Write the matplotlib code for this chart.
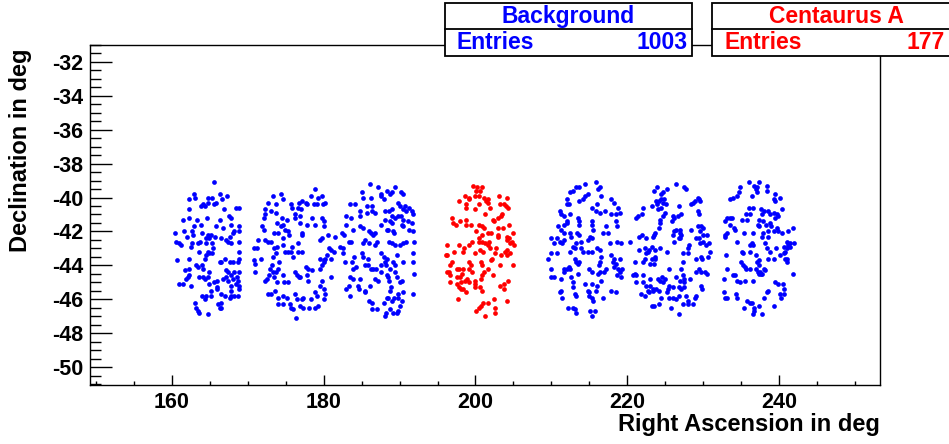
import numpy as np
import matplotlib.pyplot as plt
from matplotlib.patches import Rectangle
from matplotlib.lines import Line2D
from matplotlib.ticker import MultipleLocator

plt.rcParams['font.family'] = ['Liberation Sans', 'DejaVu Sans']
plt.rcParams['font.weight'] = 'bold'
plt.rcParams['axes.unicode_minus'] = False

# (RA, Dec) in deg
field1 = [(165.5,-39.1),(162.9,-39.8),(162.3,-40.1),(163.0,-40.0),(164.7,-40.0),(165.3,-40.0),(166.3,-39.8),
          (167.2,-39.9),(166.6,-40.1),(164.1,-40.4),(163.8,-40.5),(164.3,-40.5),(164.8,-40.3),(165.6,-40.4),
          (165.8,-40.3),(162.3,-40.7),(166.8,-40.7),(168.4,-40.6),(168.9,-40.6),(161.4,-41.3),(162.3,-41.2),
          (163.3,-41.3),(164.6,-41.2),(166.3,-41.3),(167.5,-41.1),(167.8,-41.2),(162.9,-41.7),(163.8,-41.6),
          (167.8,-41.6),(165.8,-41.7),(166.7,-41.8),(168.9,-41.7),(160.4,-42.1),(161.6,-42.0),(162.6,-42.0),
          (162.8,-42.2),(163.9,-42.1),(164.7,-42.2),(165.1,-42.2),(162.0,-42.3),(164.5,-42.4),(164.9,-42.4),
          (165.7,-42.3),(166.5,-42.4),(167.6,-42.3),(168.2,-42.0),(168.0,-42.1),(168.8,-42.0),(160.6,-42.6),
          (160.9,-42.7),(161.2,-42.8),(162.6,-42.7),(162.5,-42.9),(163.4,-42.7),(163.7,-42.6),(164.5,-42.7),
          (165.3,-42.7),(167.1,-42.5),(167.4,-42.6),(167.8,-42.7),(168.8,-42.6),(163.6,-43.2),(164.7,-43.2),
          (164.5,-43.4),(165.4,-43.0),(164.9,-43.3),(165.3,-43.3),(168.8,-43.2),(160.7,-43.7),(162.3,-43.6),
          (164.4,-43.6),(166.3,-43.8),(167.0,-43.6),(166.5,-43.8),(167.6,-43.8),(168.0,-43.8),(168.8,-43.6),
          (168.7,-43.8),(161.7,-44.3),(163.2,-44.0),(163.5,-44.1),(163.9,-44.0),(164.1,-44.2),(162.2,-44.2),
          (164.9,-44.4),(167.1,-44.3),(167.4,-44.4),(168.2,-44.4),(168.9,-44.4),(167.8,-44.6),(160.9,-45.1),
          (161.9,-44.8),(162.1,-44.7),(162.3,-44.6),(163.6,-44.7),(164.1,-44.7),(164.3,-44.8),(164.7,-44.7),
          (166.0,-44.9),(166.7,-44.8),(167.1,-44.7),(167.4,-44.9),(168.0,-44.8),(168.6,-44.7),(168.7,-44.9),
          (165.6,-45.0),(161.4,-45.1),(162.5,-45.2),(164.9,-45.1),(166.0,-45.3),(167.8,-45.2),(168.5,-45.1),
          (168.8,-45.2),(165.1,-45.5),(166.0,-45.4),(167.8,-45.5),(168.9,-45.4),(166.5,-45.7),(167.0,-45.8),
          (164.0,-45.8),(164.3,-46.0),(164.5,-45.8),(165.2,-45.8),(167.6,-45.9),(167.8,-45.8),(168.2,-45.8),
          (168.7,-45.8),(163.0,-46.2),(166.1,-46.3),(166.4,-46.2),(166.3,-46.5),(166.5,-46.5),(163.2,-46.5),
          (163.5,-46.7),(163.6,-46.8),(164.8,-46.9)]

field2 = [(178.9,-39.5),(178.3,-39.9),(179.2,-40.0),(179.8,-39.9),(173.3,-39.9),(174.4,-39.8),(174.7,-40.1),
          (172.6,-40.3),(173.7,-40.4),(175.7,-40.4),(176.7,-40.3),(177.1,-40.2),(177.6,-40.3),(177.8,-40.4),
          (179.1,-40.4),(179.9,-40.4),(180.2,-40.3),(178.7,-40.4),(172.2,-40.7),(173.1,-40.8),(175.8,-40.6),
          (176.6,-40.6),(177.0,-40.7),(176.2,-41.0),(176.9,-41.1),(176.2,-41.2),(178.4,-41.2),(179.8,-41.2),
          (180.0,-41.4),(173.7,-40.9),(172.3,-41.0),(172.1,-41.2),(174.5,-41.2),(175.1,-41.3),(173.8,-41.5),
          (174.7,-41.6),(174.4,-41.7),(176.9,-41.5),(177.8,-41.6),(178.9,-41.6),(180.0,-41.7),(171.9,-41.7),
          (172.1,-41.9),(174.9,-41.9),(175.3,-42.0),(177.1,-42.1),(177.1,-42.2),(173.5,-42.1),(174.0,-42.1),
          (171.3,-42.5),(172.3,-42.5),(172.6,-42.6),(173.1,-42.6),(174.6,-42.4),(175.4,-42.2),(179.8,-42.4),
          (179.5,-42.5),(180.5,-42.2),(170.8,-43.0),(171.2,-43.0),(173.4,-43.0),(173.8,-42.9),(174.7,-42.8),
          (176.6,-42.7),(175.8,-42.9),(180.7,-43.0),(181.0,-43.1),(173.7,-43.3),(174.9,-43.2),(175.3,-43.2),
          (175.7,-43.2),(176.6,-43.2),(177.1,-43.2),(180.4,-43.4),(173.3,-43.5),(171.8,-43.6),(176.0,-43.5),
          (179.5,-43.6),(180.2,-43.6),(180.0,-43.7),(180.9,-43.6),(170.8,-43.7),(171.0,-43.9),(170.9,-44.4),
          (173.2,-44.0),(172.9,-44.2),(174.1,-43.8),(177.6,-44.1),(177.9,-44.2),(179.8,-44.0),(179.5,-44.2),
          (180.1,-43.8),(173.3,-44.4),(173.7,-44.4),(174.0,-44.2),(172.8,-44.6),(172.5,-44.8),(172.3,-44.9),
          (173.5,-44.7),(174.6,-44.6),(176.2,-44.4),(176.5,-44.6),(176.7,-44.7),(176.9,-44.7),(178.5,-44.3),
          (177.8,-44.6),(177.9,-44.9),(179.8,-44.9),(180.9,-44.7),(173.8,-45.0),(174.8,-45.0),(175.3,-45.0),
          (173.6,-45.5),(179.5,-45.2),(180.0,-45.4),(172.7,-45.7),(173.1,-45.7),(174.0,-45.9),(174.7,-45.8),
          (175.1,-45.9),(176.2,-45.7),(177.3,-45.9),(177.1,-46.0),(176.5,-46.0),(178.8,-45.6),(179.1,-45.8),
          (180.2,-45.7),(180.0,-46.0),(178.3,-46.0),(174.0,-46.3),(174.6,-46.3),(175.5,-46.3),(175.7,-46.5),
          (176.0,-46.6),(176.9,-46.4),(177.3,-46.5),(178.1,-46.5),(178.8,-46.5),(179.2,-46.4),(176.3,-47.1)]

field3 = [(186.1,-39.2),(187.2,-39.4),(189.4,-39.4),(188.3,-39.6),(189.0,-39.7),(190.2,-39.7),(187.6,-39.8),
          (187.6,-39.9),(185.1,-39.7),(185.2,-40.0),(186.2,-40.0),(183.5,-40.4),(184.1,-40.4),(185.7,-40.5),
          (186.3,-40.5),(188.0,-40.1),(188.7,-39.8),(190.4,-39.8),(189.8,-40.3),(190.1,-40.5),(190.7,-40.5),
          (184.8,-40.8),(185.7,-40.9),(186.3,-40.8),(186.8,-40.9),(188.1,-40.8),(188.6,-40.8),(189.0,-40.7),
          (190.5,-40.7),(190.9,-40.8),(191.6,-40.8),(191.8,-41.0),(191.2,-40.6),(183.0,-41.1),(183.6,-41.2),
          (184.8,-41.1),(189.0,-41.1),(189.4,-41.2),(189.8,-41.1),(190.2,-41.1),(190.5,-41.3),(191.1,-41.4),
          (191.6,-41.5),(188.1,-41.3),(187.6,-41.6),(188.7,-41.4),(189.0,-41.5),(190.3,-41.6),(190.4,-41.7),
          (182.9,-41.6),(183.9,-41.9),(184.8,-41.7),(185.2,-41.8),(186.0,-42.0),(186.2,-42.1),(186.5,-42.2),
          (186.8,-42.1),(188.3,-41.9),(188.5,-41.9),(189.1,-42.0),(189.2,-42.1),(182.4,-42.1),(182.7,-42.2),
          (191.2,-41.9),(191.8,-42.0),(181.5,-42.3),(182.2,-42.9),(182.6,-43.0),(183.3,-42.6),(183.6,-42.6),
          (185.4,-42.5),(185.2,-42.7),(186.0,-42.7),(187.0,-42.6),(186.8,-42.8),(188.6,-42.6),(189.0,-42.7),
          (189.4,-42.8),(190.1,-42.8),(190.4,-42.7),(190.9,-42.6),(191.9,-42.6),(181.3,-43.2),(182.6,-43.3),
          (184.0,-43.5),(185.0,-43.3),(185.2,-43.5),(185.9,-43.6),(187.6,-43.3),(187.9,-43.5),(188.3,-43.6),
          (189.6,-43.4),(191.7,-43.3),(182.8,-43.8),(183.7,-43.8),(184.2,-44.1),(183.9,-44.2),(185.4,-44.0),
          (185.9,-44.0),(186.2,-44.2),(186.5,-44.2),(186.9,-44.2),(187.6,-44.0),(188.1,-43.8),(188.2,-44.0),
          (189.1,-43.8),(189.4,-44.0),(188.7,-44.2),(187.6,-44.4),(190.5,-43.8),(191.8,-43.8),(183.5,-44.7),
          (183.8,-44.8),(184.8,-44.8),(186.8,-44.8),(187.2,-44.9),(188.3,-44.6),(188.5,-44.7),(189.4,-44.4),
          (189.6,-44.7),(188.6,-44.9),(190.1,-45.0),(190.3,-44.9),(191.9,-44.5),(183.0,-45.4),(183.3,-45.2),
          (184.5,-45.2),(184.6,-45.4),(185.5,-45.5),(185.5,-45.6),(186.1,-45.2),(188.9,-45.3),(188.7,-45.5),
          (189.8,-45.7),(190.5,-45.6),(191.7,-45.7),(183.5,-45.8),(188.3,-45.9),(188.5,-45.9),(189.2,-45.9),
          (189.0,-46.1),(189.8,-45.9),(190.3,-46.1),(186.0,-46.1),(186.3,-46.2),(188.0,-46.2),(188.7,-46.6),
          (186.3,-46.6),(187.0,-46.6),(189.1,-46.8),(189.6,-46.8),(189.8,-46.7),(190.1,-46.4),(188.1,-47.0),
          (188.2,-46.8)]

field5 = [(215.9,-39.1),(216.4,-39.4),(216.1,-39.5),(214.4,-39.2),(213.7,-39.4),(213.3,-39.4),(212.8,-39.6),
          (212.5,-39.7),(212.0,-40.1),(212.0,-40.4),(212.3,-40.4),(214.4,-39.9),(214.1,-40.1),(213.6,-40.2),
          (214.8,-39.8),(216.6,-39.9),(215.3,-40.6),(216.0,-40.4),(215.9,-40.8),(216.4,-40.9),(217.0,-40.8),
          (217.8,-40.1),(218.2,-40.3),(218.8,-40.6),(218.5,-41.0),(219.0,-40.9),(217.8,-41.0),(211.2,-40.8),
          (211.3,-41.0),(211.7,-41.1),(212.5,-41.0),(213.5,-41.2),(213.7,-41.4),(215.3,-41.4),(215.4,-41.6),
          (213.7,-41.6),(217.2,-41.7),(218.5,-41.4),(218.6,-41.7),(212.0,-41.4),(212.0,-41.5),(211.6,-41.6),
          (210.9,-41.7),(211.3,-41.9),(211.7,-42.1),(212.4,-42.1),(212.6,-42.3),(213.4,-42.1),(213.7,-42.2),
          (215.5,-41.9),(216.8,-42.1),(217.5,-42.1),(215.1,-42.3),(215.4,-42.4),(210.0,-42.4),(210.3,-42.7),
          (210.7,-42.4),(211.6,-42.5),(211.2,-42.6),(211.4,-42.7),(213.2,-42.7),(213.9,-42.6),(214.8,-42.5),
          (218.6,-42.6),(219.2,-42.7),(212.8,-42.9),(212.4,-43.2),(213.1,-43.0),(213.9,-43.0),(214.2,-43.2),
          (214.8,-43.2),(215.4,-43.2),(216.0,-43.0),(216.4,-43.1),(210.0,-43.3),(210.7,-43.3),(209.5,-43.6),
          (217.7,-42.7),(217.9,-43.4),(218.2,-43.6),(216.6,-43.5),(216.4,-43.8),(213.1,-43.6),(213.3,-43.8),
          (213.5,-43.9),(213.6,-43.8),(218.1,-43.8),(218.5,-43.9),(219.0,-43.6),(216.3,-44.0),(210.0,-44.2),
          (211.7,-44.2),(212.0,-44.2),(212.3,-44.1),(212.5,-44.2),(211.7,-44.4),(213.5,-44.5),(214.9,-44.2),
          (215.3,-44.4),(216.4,-44.4),(216.9,-44.4),(217.2,-44.2),(218.2,-44.1),(218.8,-44.2),(219.3,-44.2),
          (219.0,-44.4),(218.6,-44.6),(219.2,-44.7),(216.6,-44.9),(216.1,-44.5),(209.9,-44.7),(210.4,-44.7),
          (211.3,-44.8),(212.6,-44.7),(212.8,-45.0),(212.8,-45.3),(214.4,-45.1),(215.3,-45.1),(216.0,-45.2),
          (211.3,-45.5),(211.2,-45.6),(211.4,-45.9),(213.1,-45.7),(213.3,-45.8),(214.8,-45.5),(215.0,-45.6),
          (214.9,-45.8),(215.3,-45.9),(215.9,-45.5),(216.8,-45.9),(217.9,-45.5),(218.5,-45.6),(215.5,-46.1),
          (212.2,-46.5),(212.8,-46.5),(213.1,-46.6),(213.2,-46.8),(215.1,-46.7),(215.7,-46.7),(215.4,-47.0)]

field6 = [(226.4,-39.2),(227.5,-39.4),(227.7,-39.5),(223.9,-39.4),(225.2,-39.5),(223.5,-39.6),(224.7,-39.7),
          (224.5,-39.8),(223.8,-40.2),(224.2,-40.2),(224.5,-40.1),(224.8,-40.1),(224.7,-40.3),(223.9,-40.4),
          (225.1,-40.4),(223.3,-40.5),(224.5,-40.6),(224.0,-40.7),(226.8,-40.5),(228.4,-40.4),(228.6,-40.3),
          (228.9,-40.2),(229.3,-40.0),(229.5,-40.1),(229.6,-40.2),(222.1,-40.6),(222.0,-41.0),(221.4,-41.1),
          (221.1,-41.2),(224.7,-41.1),(225.0,-40.9),(229.3,-40.8),(229.4,-41.0),(226.0,-41.1),(226.1,-41.2),
          (225.9,-41.4),(226.7,-41.1),(227.1,-41.0),(224.3,-41.3),(224.3,-41.5),(224.2,-41.8),(226.4,-41.9),
          (226.9,-41.9),(226.2,-42.0),(227.0,-42.1),(227.1,-42.2),(226.0,-42.2),(226.1,-42.6),(226.8,-42.4),
          (227.0,-42.4),(228.4,-41.9),(229.3,-41.7),(229.7,-41.7),(230.0,-41.8),(229.6,-42.0),(230.0,-42.2),
          (230.5,-42.2),(229.0,-42.4),(229.5,-42.4),(229.6,-42.7),(230.0,-42.6),(230.4,-42.8),(230.8,-42.7),
          (228.1,-42.8),(228.0,-43.0),(228.0,-43.3),(227.4,-43.3),(227.3,-43.8),(230.9,-43.2),(221.5,-42.3),
          (222.0,-42.2),(222.5,-42.4),(223.4,-42.3),(223.5,-42.2),(223.7,-42.1),(220.3,-42.6),(221.5,-43.1),
          (222.3,-43.0),(222.5,-43.3),(222.7,-43.2),(222.9,-43.1),(223.3,-42.9),(223.6,-43.1),(224.3,-43.0),
          (223.7,-43.5),(223.7,-43.6),(223.2,-43.6),(222.3,-43.6),(222.1,-43.8),(223.0,-43.9),(223.5,-43.9),
          (221.0,-43.8),(225.2,-43.2),(229.7,-43.5),(229.9,-43.6),(230.6,-43.5),(229.0,-43.6),(225.5,-44.2),
          (227.1,-44.2),(229.0,-44.4),(229.5,-44.2),(229.7,-44.4),(230.3,-44.4),(230.5,-44.5),(221.0,-44.5),
          (221.1,-44.6),(220.7,-44.6),(222.1,-44.6),(223.0,-44.8),(224.0,-44.8),(224.3,-44.9),(224.6,-44.7),
          (224.7,-45.0),(225.0,-44.8),(226.4,-44.7),(226.9,-44.9),(227.3,-44.6),(227.5,-44.8),(227.5,-45.0),
          (228.2,-44.8),(221.1,-45.0),(222.1,-45.0),(222.5,-45.2),(223.0,-45.2),(223.4,-45.4),(223.8,-45.4),
          (224.2,-45.5),(225.5,-45.2),(225.3,-45.4),(226.0,-45.3),(226.8,-45.3),(227.1,-45.4),(227.5,-45.3),
          (229.7,-45.2),(229.9,-45.4),(221.8,-45.7),(222.4,-45.8),(222.7,-45.5),(223.4,-45.5),(222.9,-45.6),
          (224.5,-45.9),(225.2,-45.6),(225.5,-45.9),(226.0,-45.9),(226.4,-46.0),(226.8,-45.8),(227.8,-45.8),
          (228.0,-46.1),(228.9,-45.9),(229.1,-45.8),(223.2,-46.4),(223.5,-46.4),(224.2,-46.3),(225.8,-46.5),
          (227.4,-46.3),(228.0,-46.3),(228.6,-46.3),(226.8,-46.9)]

field7 = [(236.0,-39.1),(237.3,-39.1),(236.7,-39.3),(237.1,-39.4),(236.9,-39.5),(237.1,-39.7),(238.4,-39.3),
          (238.4,-39.6),(234.9,-39.4),(234.7,-39.7),(234.4,-39.9),(233.9,-40.0),(233.5,-40.1),(236.4,-39.9),
          (239.5,-39.8),(240.1,-40.0),(239.3,-40.1),(239.5,-40.2),(236.1,-40.6),(236.6,-40.6),(236.2,-41.0),
          (235.7,-41.0),(237.6,-40.7),(238.0,-40.8),(237.7,-41.0),(238.5,-40.8),(238.8,-41.0),(239.3,-40.9),
          (239.7,-41.0),(239.9,-41.1),(239.5,-41.2),(240.4,-40.7),(233.1,-41.2),(233.5,-41.2),(233.8,-41.2),
          (232.9,-41.4),(233.6,-41.6),(234.0,-41.8),(234.2,-41.9),(235.1,-41.3),(235.8,-41.3),(237.3,-41.3),
          (237.2,-41.6),(237.4,-41.7),(237.9,-41.4),(238.3,-41.6),(238.8,-41.5),(238.9,-41.7),(239.3,-42.0),
          (239.7,-41.8),(239.9,-42.0),(240.4,-42.1),(241.2,-42.0),(241.8,-41.8),(237.9,-42.1),(238.6,-42.0),
          (238.5,-42.3),(237.7,-42.3),(236.5,-42.1),(235.4,-42.1),(232.9,-42.2),(233.1,-42.1),(232.9,-42.3),
          (234.5,-42.6),(236.4,-42.7),(236.5,-42.8),(236.2,-42.8),(238.2,-42.7),(241.0,-42.6),(241.5,-42.7),
          (242.0,-42.7),(240.6,-42.9),(241.2,-42.8),(241.0,-43.0),(241.5,-42.9),(238.4,-43.0),(238.8,-43.2),
          (239.6,-43.0),(240.1,-43.4),(239.3,-43.6),(238.6,-43.6),(240.8,-43.2),(240.6,-43.3),(240.8,-43.6),
          (241.1,-43.6),(241.0,-43.8),(233.0,-43.4),(235.1,-43.2),(235.3,-43.3),(236.2,-43.2),(236.9,-43.4),
          (237.3,-43.7),(237.1,-43.8),(237.4,-44.0),(235.0,-43.8),(235.2,-44.0),(235.5,-44.1),(235.7,-44.2),
          (236.2,-44.2),(236.9,-44.2),(237.5,-44.4),(237.6,-44.5),(238.0,-44.2),(237.7,-44.5),(237.3,-44.5),
          (237.2,-44.4),(238.2,-44.3),(233.1,-44.2),(232.7,-44.8),(233.9,-44.6),(234.2,-44.6),(234.4,-44.9),
          (234.9,-45.0),(235.5,-44.9),(236.6,-44.9),(241.8,-44.5),(239.5,-45.0),(239.9,-45.1),(240.5,-45.1),
          (240.6,-45.4),(238.6,-45.5),(238.4,-45.6),(240.1,-45.7),(240.6,-45.7),(240.2,-45.9),(238.0,-45.9),
          (232.7,-45.6),(232.9,-45.9),(233.1,-45.9),(234.3,-45.7),(234.4,-45.9),(235.8,-46.1),(236.2,-46.2),
          (236.4,-46.2),(235.4,-46.5),(236.7,-46.5),(237.4,-46.4),(239.3,-46.4),(236.7,-46.7),(236.5,-46.9),
          (237.7,-46.9)]

# Centaurus A field
cena = [(199.7,-39.3),(200.2,-39.4),(200.8,-39.4),(200.6,-39.6),(200.1,-39.6),(198.6,-39.9),(199.1,-40.0),
        (199.2,-40.1),(200.0,-39.9),(200.5,-39.9),(201.1,-40.0),(201.6,-40.1),(201.7,-40.3),(201.4,-40.2),
        (203.1,-39.9),(204.1,-40.0),(197.8,-40.2),(198.7,-40.4),(198.8,-40.6),(200.5,-40.4),(200.0,-40.7),
        (201.9,-40.6),(203.2,-40.4),(203.8,-40.4),(204.0,-40.5),(204.3,-40.6),(196.9,-41.2),(197.0,-41.5),
        (197.4,-41.6),(197.9,-41.4),(198.7,-41.3),(198.8,-41.6),(199.4,-41.6),(200.5,-41.6),(200.8,-41.7),
        (201.3,-41.0),(202.4,-41.4),(202.3,-41.3),(203.5,-41.0),(203.3,-41.1),(202.9,-41.2),(204.4,-41.6),
        (203.0,-41.8),(203.6,-41.8),(200.1,-42.0),(201.1,-41.8),(200.9,-42.2),(201.6,-42.1),(202.0,-42.1),
        (203.0,-42.2),(202.9,-42.3),(205.0,-42.1),(204.2,-42.3),(204.4,-42.4),(204.8,-42.6),(205.1,-42.8),
        (204.6,-42.7),(204.1,-42.5),(200.4,-42.4),(200.5,-42.6),(200.8,-42.6),(201.3,-42.7),(201.8,-42.6),
        (201.6,-42.8),(199.6,-42.6),(199.2,-42.8),(196.2,-42.8),(197.8,-42.8),(198.5,-43.0),(197.2,-43.2),
        (198.3,-43.2),(200.0,-43.3),(200.6,-43.1),(201.0,-43.2),(201.9,-43.0),(202.7,-43.0),(203.9,-43.2),
        (204.2,-43.1),(204.5,-43.3),(204.1,-43.4),(196.1,-43.4),(196.3,-43.4),(202.6,-43.3),(203.3,-43.4),
        (202.2,-43.6),(202.0,-43.7),(200.7,-43.8),(200.8,-44.0),(199.1,-43.8),(199.4,-44.0),(196.9,-43.8),
        (196.6,-44.0),(197.5,-44.2),(197.8,-44.2),(198.3,-44.2),(199.1,-44.2),(199.5,-44.4),(201.6,-44.2),
        (201.1,-44.4),(203.2,-44.0),(204.9,-44.0),(196.3,-44.4),(196.5,-44.4),(196.7,-44.6),(197.6,-44.7),
        (197.9,-44.7),(198.2,-44.5),(198.6,-44.9),(198.9,-44.8),(199.1,-45.0),(198.1,-45.0),(200.0,-44.9),
        (200.7,-44.8),(200.9,-44.6),(202.3,-44.6),(196.6,-45.0),(197.5,-45.1),(197.8,-45.3),(198.1,-45.4),
        (198.4,-45.4),(198.7,-45.6),(200.0,-45.1),(200.0,-45.3),(200.6,-45.3),(200.8,-45.5),(203.2,-45.2),
        (203.8,-45.1),(204.3,-44.9),(203.8,-45.4),(197.7,-46.0),(201.0,-46.2),(201.7,-46.2),(202.4,-46.0),
        (200.4,-46.5),(200.7,-46.4),(200.1,-46.7),(202.6,-46.5),(202.6,-46.8),(201.3,-47.0),(204.1,-46.1)]

entries_background = 1003
entries_cena = 177

background = np.array(field1 + field2 + field3 + field5 + field6 + field7)
source = np.array(cena)

fig = plt.figure(figsize=(9.49, 4.44), dpi=100)
ax = fig.add_axes([0.0948, 0.1329, 0.8325, 0.7658])

ax.plot(background[:, 0], background[:, 1], 'o', color='#0000ff', ms=3.4, mew=0, ls='none')
ax.plot(source[:, 0], source[:, 1], 'o', color='#ff0000', ms=3.4, mew=0, ls='none')

ax.set_xlim(149.2, 253.3)
ax.set_ylim(-51.06, -31.0)
ax.xaxis.set_major_locator(MultipleLocator(20))
ax.xaxis.set_minor_locator(MultipleLocator(5))
ax.yaxis.set_major_locator(MultipleLocator(2))
ax.yaxis.set_minor_locator(MultipleLocator(0.5))
ax.tick_params(which='both', direction='in', top=False, right=False, width=1, labelsize=15.5)
ax.tick_params(axis='y', which='major', length=16, pad=5)
ax.tick_params(axis='y', which='minor', length=8)
ax.tick_params(axis='x', which='major', length=7.2, pad=5)
ax.tick_params(axis='x', which='minor', length=3.2)
for s in ax.spines.values():
    s.set_linewidth(1.0)

ax.set_xlabel('Right Ascension in deg', fontsize=17, fontweight='bold', loc='right')
ax.set_ylabel('Declination in deg', fontsize=17, fontweight='bold', loc='top')
ax.xaxis.set_label_coords(1.0, -0.083)
ax.yaxis.set_label_coords(-0.073, 0.99)

# stat boxes, ROOT style
def stat_box(x0, x1, title, count, color):
    y0, ymid, y1 = 1 - 56 / 444, 1 - 29 / 444, 1 - 3 / 444
    fig.add_artist(Rectangle((x0, y0), x1 - x0, y1 - y0, transform=fig.transFigure,
                             facecolor='white', edgecolor='black', lw=1.3, zorder=5))
    fig.add_artist(Line2D([x0, x1], [ymid, ymid], transform=fig.transFigure,
                          color='black', lw=1.3, zorder=6))
    fig.text((x0 + x1) / 2, (ymid + y1) / 2, title, color=color, fontsize=16.5,
             fontweight='bold', ha='center', va='center', zorder=7)
    fig.text(x0 + 12 / 949, (y0 + ymid) / 2, 'Entries', color=color, fontsize=16.5,
             fontweight='bold', ha='left', va='center', zorder=7)
    fig.text(min(x1, 1.0) - 4 / 949, (y0 + ymid) / 2, str(count), color=color, fontsize=16.5,
             fontweight='bold', ha='right', va='center', zorder=7)

stat_box(445 / 949, 692 / 949, 'Background', entries_background, '#0000ff')
stat_box(712 / 949, 960 / 949, 'Centaurus A', entries_cena, '#ff0000')

fig.savefig('out.png', dpi=100)
